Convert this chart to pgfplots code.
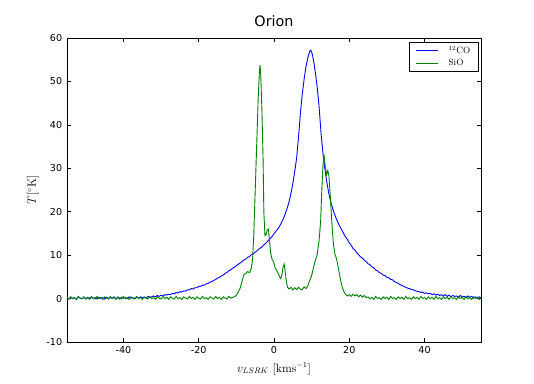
\documentclass[border=0pt]{standalone}
\usepackage{fontspec}
\usepackage{pgfplots}
\pgfplotsset{compat=1.18}
\newfontfamily\dejavu{DejaVu Sans}
\definecolor{mplgreen}{rgb}{0,0.5,0}
\begin{document}
\begin{tikzpicture}
\path[use as bounding box] (0,0) rectangle (534bp,384bp);
\begin{axis}[
  at={(67bp,42bp)}, anchor=south west,
  scale only axis, width=414bp, height=304bp,
  xmin=-55, xmax=55, ymin=-10, ymax=60,
  axis line style={line width=0.8bp},
  every tick/.style={black, line width=0.6bp},
  major tick length=4bp,
  xtick={-40,-20,0,20,40},
  xticklabels={-40,-20,0,20,40},
  ytick={-10,0,10,20,30,40,50,60},
  yticklabels={-10,0,10,20,30,40,50,60},
  tick label style={font=\dejavu\fontsize{9.6}{11}\selectfont},
  xticklabel style={inner sep=0pt, anchor=north, yshift=-4.7bp},
  yticklabel style={inner sep=0pt, anchor=east, xshift=-4.7bp},
  title={Orion},
  title style={font=\dejavu\fontsize{14.4}{17}\selectfont, at={(axis description cs:0.5,1.0197)}, anchor=base, inner sep=0pt},
  xlabel={$v_{LSRK}$ [kms$^{-1}$]},
  xlabel style={font=\fontsize{12}{14}\selectfont, at={(axis description cs:0.5,-0.0987)}, anchor=base, inner sep=0pt},
  ylabel={$T$[$^{\circ}$K]},
  ylabel style={font=\fontsize{12}{14}\selectfont, at={(axis description cs:-0.0749,0.5)}, anchor=base, inner sep=0pt, rotate=0},
  legend style={at={(axis description cs:1,1)}, anchor=north east, xshift=-2.5bp, yshift=-4bp,
    draw=black, line width=0.6bp, font=\fontsize{9}{10}\selectfont, inner xsep=6bp, inner ysep=2bp, row sep=0bp,
    column sep=8bp, cells={anchor=west}},
  legend image code/.code={\draw[#1, line width=0.9bp] (0bp,0bp) -- (22bp,0bp);},
]
\addplot[blue, line width=0.9bp] coordinates {
(-55,0.2) (-54.5,-0.1) (-54,0.3) (-53.5,0.0) (-53,0.2) (-52.5,-0.2) (-52,0.4) (-51.5,0.1) (-51,0.0) (-50.5,0.3)
(-50,-0.1) (-49.5,0.2) (-49,0.1) (-48.5,0.4) (-48,0.0) (-47.5,0.2) (-47,-0.1) (-46.5,0.3) (-46,0.1) (-45.5,0.2)
(-45,-0.1) (-44.5,0.3) (-44,0.0) (-43.5,0.2) (-43,0.1) (-42.5,0.4) (-42,0.0) (-41.5,0.2) (-41,-0.1) (-40.5,0.3)
(-40,0.1) (-39.5,0.2) (-39,0.0) (-38.5,0.4) (-38,0.1) (-37.5,0.2) (-37,0.0) (-36.5,0.3) (-36,0.1) (-35.5,0.4)
(-35,0.2) (-34.5,0.3) (-34,0.1) (-33.5,0.5) (-33,0.3) (-32.5,0.4) (-32,0.6) (-31.5,0.4) (-31,0.7) (-30.5,0.5)
(-30,0.8) (-29.5,0.6) (-29,0.9) (-28.5,0.8) (-28,1.0) (-27.5,0.9) (-27,1.2) (-26.5,1.1) (-26,1.4) (-25.5,1.3)
(-25,1.6) (-24.5,1.5) (-24,1.8) (-23.5,1.7) (-23,2.0) (-22.5,2.0) (-22,2.3) (-21.5,2.2) (-21,2.5) (-20.5,2.5)
(-20,2.8) (-19.5,2.8) (-19,3.1) (-18.5,3.1) (-18,3.4) (-17.5,3.5) (-17,3.8) (-16.5,3.9) (-16,4.2) (-15.5,4.4)
(-15,4.7) (-14.5,4.9) (-14,5.2) (-13.5,5.4) (-13,5.8) (-12.5,6.0) (-12,6.4) (-11.5,6.6) (-11,7.0) (-10.5,7.2)
(-10,7.6) (-9.5,7.9) (-9,8.2) (-8.5,8.5) (-8,8.9) (-7.5,9.1) (-7,9.5) (-6.5,9.7) (-6,10.1) (-5.5,10.3)
(-5,10.7) (-4.5,11.0) (-4,11.4) (-3.5,11.7) (-3,12.1) (-2.5,12.5) (-2,12.9) (-1.5,13.4) (-1,13.8) (-0.5,14.3)
(0,14.9) (0.5,15.5) (1,16.0) (1.5,16.7) (2,17.5) (2.5,18.4) (3,19.5) (3.5,20.8) (4,22.3) (4.5,24.2)
(5,26.5) (5.5,29.2) (6,32.3) (6.5,37) (7,42.5) (7.5,47) (8,50.5) (8.5,53.5) (9,55.5) (9.5,57.0)
(9.8,57.2) (10.2,56.2) (10.6,54.3) (11,52) (11.5,48.5) (12,44) (12.5,38) (13,33.5) (13.5,30) (14,27)
(14.5,24.5) (15,22.5) (15.5,21) (16,19.6) (16.5,18.5) (17,17.5) (17.5,16.6) (18,15.8) (18.5,15.0) (19,14.2)
(19.5,13.6) (20,12.8) (20.5,12.3) (21,11.5) (21.5,11.2) (22,10.5) (22.5,10.1) (23,9.6) (23.5,9.3) (24,8.8)
(24.5,8.5) (25,8.0) (25.5,7.8) (26,7.3) (26.5,7.1) (27,6.6) (27.5,6.4) (28,6.0) (28.5,5.8) (29,5.4)
(29.5,5.3) (30,4.9) (30.5,4.8) (31,4.4) (31.5,4.3) (32,3.9) (32.5,3.7) (33,3.5) (33.5,3.2) (34,3.0)
(34.5,2.8) (35,2.6) (35.5,2.4) (36,2.3) (36.5,2.1) (37,2.0) (37.5,1.8) (38,1.7) (38.5,1.6) (39,1.4)
(39.5,1.5) (40,1.2) (40.5,1.3) (41,1.1) (41.5,1.2) (42,0.9) (42.5,1.1) (43,0.8) (43.5,1.0) (44,0.7)
(44.5,0.9) (45,0.6) (45.5,0.9) (46,0.5) (46.5,0.8) (47,0.4) (47.5,0.7) (48,0.5) (48.5,0.6) (49,0.3)
(49.5,0.7) (50,0.4) (50.5,0.5) (51,0.2) (51.5,0.6) (52,0.3) (52.5,0.5) (53,0.1) (53.5,0.4) (54,0.2)
(54.5,0.4) (55,0.1)
};
\addlegendentry{$^{12}$CO}
\addplot[mplgreen, line width=0.9bp] coordinates {
(-55,0.3) (-54.5,-0.1) (-54,0.4) (-53.5,0.0) (-53,0.2) (-52.5,-0.2) (-52,0.5) (-51.5,0.1) (-51,-0.1) (-50.5,0.4)
(-50,0.0) (-49.5,0.3) (-49,-0.2) (-48.5,0.4) (-48,0.1) (-47.5,-0.1) (-47,0.5) (-46.5,0.0) (-46,0.2) (-45.5,-0.2)
(-45,0.4) (-44.5,0.1) (-44,-0.1) (-43.5,0.5) (-43,0.0) (-42.5,0.3) (-42,-0.2) (-41.5,0.4) (-41,0.1) (-40.5,-0.1)
(-40,0.5) (-39.5,0.0) (-39,0.2) (-38.5,-0.2) (-38,0.4) (-37.5,0.1) (-37,-0.1) (-36.5,0.5) (-36,0.0) (-35.5,0.3)
(-35,-0.2) (-34.5,0.4) (-34,0.1) (-33.5,-0.1) (-33,0.5) (-32.5,0.0) (-32,0.2) (-31.5,-0.2) (-31,0.4) (-30.5,0.1)
(-30,-0.1) (-29.5,0.5) (-29,0.0) (-28.5,0.3) (-28,-0.2) (-27.5,0.4) (-27,0.1) (-26.5,-0.1) (-26,0.5) (-25.5,0.0)
(-25,0.2) (-24.5,-0.2) (-24,0.4) (-23.5,0.1) (-23,-0.1) (-22.5,0.5) (-22,0.0) (-21.5,0.3) (-21,-0.2) (-20.5,0.4)
(-20,0.1) (-19.5,-0.1) (-19,0.5) (-18.5,0.0) (-18,0.2) (-17.5,-0.2) (-17,0.4) (-16.5,0.1) (-16,-0.1) (-15.5,0.5)
(-15,0.0) (-14.5,0.3) (-14,-0.2) (-13.5,0.4) (-13,0.1) (-12.5,-0.1) (-12,0.5) (-11.5,0.1) (-11,0.3) (-10.5,0.4)
(-10,0.8) (-9.5,1.5) (-9,2.4) (-8.5,4.0) (-8,5.5) (-7.5,5.8) (-7,6.2) (-6.5,6.0) (-6,7.0) (-5.7,9.0)
(-5.4,14) (-5.1,22) (-4.8,30) (-4.5,38) (-4.2,46) (-3.9,52) (-3.7,53.8) (-3.5,51) (-3.2,43) (-2.9,32)
(-2.7,20) (-2.4,14.5) (-2.1,14.8) (-1.8,15.8) (-1.5,16.0) (-1.2,13.5) (-0.9,10.5) (-0.5,9.0) (-0.1,8.5) (0.3,7.0)
(0.7,6.5) (1.1,5.8) (1.5,5.0) (1.8,4.6) (2.1,5.5) (2.4,7.2) (2.7,7.9) (3.0,6.0) (3.3,3.8) (3.6,2.6)
(4,2.2) (4.5,2.6) (5,2.0) (5.5,2.5) (6,2.1) (6.5,2.6) (7,2.2) (7.5,2.0) (8,2.7) (8.5,2.3)
(9,3.0) (9.5,4.2) (10,5.3) (10.5,7.2) (11,8.8) (11.5,10.2) (12,13.5) (12.4,18) (12.7,25) (13,30.5)
(13.3,33.2) (13.6,30.5) (14,28.5) (14.3,29.5) (14.6,28.2) (15,23) (15.4,17) (15.8,12.5) (16.2,10.2) (16.6,9.2)
(17,7.5) (17.4,5.5) (17.8,3.8) (18.2,2.4) (18.6,1.6) (19,1.0) (19.5,0.6) (20,0.9) (20.5,0.5) (21,1.0)
(21.5,0.6) (22,0.9) (22.5,0.4) (23,0.8) (23.5,0.3) (24,0.7) (24.5,0.2) (25,0.4) (25.5,-0.1) (26,0.3)
(26.5,-0.2) (27,0.5) (27.5,0.0) (28,0.2) (28.5,-0.2) (29,0.4) (29.5,0.0) (30,0.3) (30.5,-0.2) (31,0.5)
(31.5,0.0) (32,0.2) (32.5,-0.2) (33,0.4) (33.5,0.0) (34,0.3) (34.5,-0.2) (35,0.5) (35.5,0.0) (36,0.2)
(36.5,-0.2) (37,0.4) (37.5,0.0) (38,0.3) (38.5,-0.2) (39,0.5) (39.5,0.0) (40,0.2) (40.5,-0.2) (41,0.4)
(41.5,0.0) (42,0.3) (42.5,-0.2) (43,0.5) (43.5,0.0) (44,0.2) (44.5,-0.2) (45,0.4) (45.5,0.0) (46,0.3)
(46.5,-0.2) (47,0.5) (47.5,0.0) (48,0.2) (48.5,-0.2) (49,0.4) (49.5,0.0) (50,0.3) (50.5,-0.2) (51,0.5)
(51.5,0.0) (52,0.2) (52.5,-0.2) (53,0.4) (53.5,0.0) (54,0.3) (54.5,-0.2) (55,0.2)
};
\addlegendentry{SiO}
\end{axis}
\end{tikzpicture}
\end{document}
